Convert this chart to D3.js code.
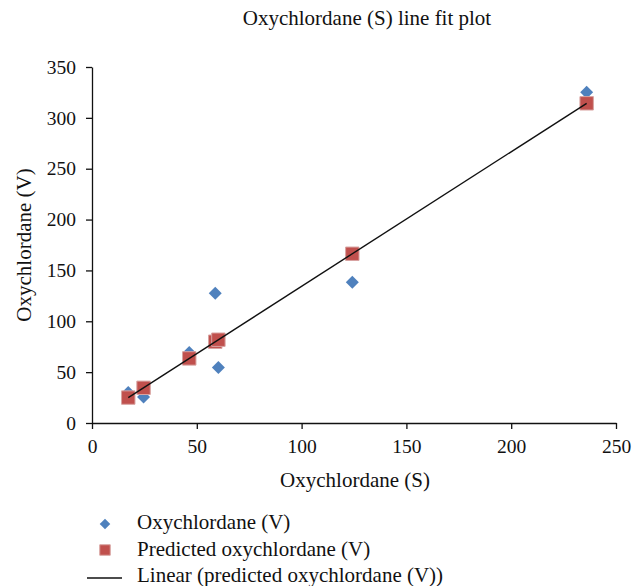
<!DOCTYPE html>
<html>
<head>
<meta charset="utf-8">
<script src="https://cdn.jsdelivr.net/npm/d3@7"></script>
<style>
  body { margin: 0; background: #fff; }
  svg text { font-family: "Liberation Serif", "Times New Roman", serif; fill: #111; }
</style>
</head>
<body>
<svg id="chart" width="634" height="586"></svg>
<script>
const W = 634, H = 586;

// values
const sValues = [17.3, 24.6, 46.4, 58.8, 60.3, 124.2, 236.0];       // Oxychlordane (S)
const vValues = [29.9, 25.6, 69.3, 127.5, 54.5, 138.4, 325.1];      // Oxychlordane (V)
const predValues = [25.0, 34.6, 63.5, 79.9, 81.9, 166.4, 314.3];    // Predicted oxychlordane (V)
const xTicks = [0, 50, 100, 150, 200, 250];
const yTicks = [0, 50, 100, 150, 200, 250, 300, 350];
const legendLabels = ["Oxychlordane (V)", "Predicted oxychlordane (V)", "Linear (predicted oxychlordane (V))"];

const blue = "#4f81bd", red = "#c0504d";
const serif = '"Liberation Serif", "Times New Roman", serif';

const svg = d3.select("#chart");
const x = d3.scaleLinear().domain([0, 250]).range([92, 616]);
const y = d3.scaleLinear().domain([0, 350]).range([423, 67]);

// title
svg.append("text")
  .attr("x", 367).attr("y", 25)
  .attr("text-anchor", "middle")
  .style("font-size", "21px")
  .text("Oxychlordane (S) line fit plot");

// axes
const gx = svg.append("g")
  .attr("transform", `translate(0,${y(0)})`)
  .call(d3.axisBottom(x).tickValues(xTicks).tickSize(6).tickSizeOuter(0).tickPadding(10));
const gy = svg.append("g")
  .attr("transform", `translate(${x(0)},0)`)
  .call(d3.axisLeft(y).tickValues(yTicks).tickSize(6).tickSizeOuter(0).tickPadding(10));

[gx, gy].forEach(g => {
  g.attr("font-family", serif).attr("font-size", 19.5);
  g.selectAll("path, line").attr("stroke", "#111").attr("stroke-width", 1.3);
  g.selectAll("text").attr("fill", "#111")
    .style("font-family", serif).style("font-size", "19.5px");
});

// axis titles
svg.append("text")
  .attr("x", 355).attr("y", 487)
  .attr("text-anchor", "middle")
  .style("font-size", "21px")
  .text("Oxychlordane (S)");
svg.append("text")
  .attr("transform", "rotate(-90)")
  .attr("x", -245).attr("y", 31)
  .attr("text-anchor", "middle")
  .style("font-size", "21px")
  .text("Oxychlordane (V)");

const diamond = d3.symbol().type(d3.symbolSquare).size(84);
const square = d3.symbol().type(d3.symbolSquare).size(180);

const pts = sValues.map((s, i) => ({ s, v: vValues[i], p: predValues[i] }));

// observed
svg.append("g").selectAll("path")
  .data(pts)
  .join("path")
    .attr("d", diamond)
    .attr("transform", d => `translate(${x(d.s)},${y(d.v)}) rotate(45)`)
    .attr("fill", blue);

// predicted
svg.append("g").selectAll("path")
  .data(pts)
  .join("path")
    .attr("d", square)
    .attr("transform", d => `translate(${x(d.s)},${y(d.p)})`)
    .attr("fill", red)
    .attr("stroke", "#d8a3a1")
    .attr("stroke-width", 1);

// linear trend through predicted values
const line = d3.line().x(d => x(d.s)).y(d => y(d.p));
const ends = [pts[0], pts[pts.length - 1]];
svg.append("path")
  .datum(ends)
  .attr("d", line)
  .attr("fill", "none")
  .attr("stroke", "#111")
  .attr("stroke-width", 1.4);

// legend
const lg = svg.append("g");
const rowY = [529, 556, 582];
legendLabels.forEach((t, i) => {
  lg.append("text")
    .attr("x", 137).attr("y", rowY[i])
    .style("font-size", "21px")
    .text(t);
});
lg.append("path").attr("d", d3.symbol().type(d3.symbolSquare).size(56))
  .attr("transform", `translate(105,${rowY[0] - 5}) rotate(45)`).attr("fill", blue);
lg.append("path").attr("d", d3.symbol().type(d3.symbolSquare).size(110))
  .attr("transform", `translate(105,${rowY[1] - 6})`).attr("fill", red)
  .attr("stroke", "#d8a3a1").attr("stroke-width", 1);
lg.append("line")
  .attr("x1", 87).attr("x2", 122)
  .attr("y1", rowY[2] - 4).attr("y2", rowY[2] - 4)
  .attr("stroke", "#111").attr("stroke-width", 1.4);
</script>
</body>
</html>
